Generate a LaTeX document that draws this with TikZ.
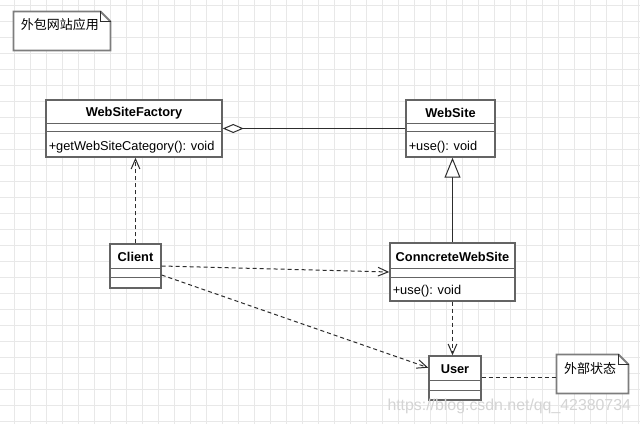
\documentclass[tikz,border=0pt]{standalone}
\usepackage{fontspec}
\setmainfont{Liberation Sans}
\newfontfamily\cjk{Noto Sans CJK SC}
\usetikzlibrary{arrows.meta,calc,fit,backgrounds}

\definecolor{boxgray}{RGB}{100,100,100}
\definecolor{notegray}{RGB}{125,125,125}
\definecolor{shadowgray}{RGB}{236,236,236}
\definecolor{gridgray}{RGB}{232,232,232}
\definecolor{linegray}{RGB}{45,45,45}
\definecolor{markgray}{RGB}{212,212,212}

\tikzset{every picture/.style={line width=0.75pt}}

\begin{document}
\begin{tikzpicture}[x=0.75pt,y=0.75pt,yscale=-1,xscale=1,
  classbox/.style={draw=boxgray, line width=1.1pt, fill=white, inner sep=0pt, rectangle},
  classline/.style={draw=boxgray, line width=1.1pt},
  notebox/.style={draw=notegray, line width=1.4pt, fill=white, line join=miter},
  notefold/.style={draw=linegray, line width=0.6pt},
  classname/.style={inner sep=0.75pt, font=\fontsize{9.6pt}{11pt}\selectfont\bfseries},
  classop/.style={inner sep=0.75pt, anchor=west, font=\fontsize{9.6pt}{11pt}\selectfont},
  notetext/.style={inner sep=0.75pt, anchor=west, font=\cjk\fontsize{9.75pt}{12pt}\selectfont},
  depend/.style={draw=linegray, dash pattern=on 3pt off 2.25pt, -{Straight Barb[length=7.5pt,width=6.5pt]}},
  extend/.style={draw=linegray, -{Triangle[length=15pt,width=12pt,fill=white]}},
  aggreg/.style={draw=linegray, {Diamond[length=15.75pt,width=6.75pt,fill=white]}-},
  attach/.style={draw=linegray, dash pattern=on 3pt off 2.25pt},
  gridline/.style={draw=gridgray, line width=0.6pt}]
\useasboundingbox (0,0) rectangle (640,424);

%Grid
\fill[white] (0,0) rectangle (640,424);
\foreach \gx in {14,30,...,638} \draw[gridline] (\gx,0) -- (\gx,424);
\foreach \gy in {5,21,...,421} \draw[gridline] (0,\gy) -- (640,\gy);

%Shape: Note [id:note1]
\node[inner sep=0pt, fit={(14,12) (110,50)}] (note1) {};
\draw[notebox] (note1.north west) -- ($(note1.north east)+(-10,0)$) -- ($(note1.north east)+(0,10)$) -- (note1.south east) -- (note1.south west) -- cycle;
\draw[notefold] ($(note1.north east)+(-10,0)$) -- ($(note1.north east)+(-10,10)$) -- ($(note1.north east)+(0,10)$);
% Text Node
\node[notetext] (note1text) at ($(note1.north west)+(6,13)$) {外包网站应用};

%Shape: Class [id:factory]
\node[classbox, fit={(46,100) (222,157)}] (factory) {};
\draw[classline] ($(factory.north west)+(0,24)$) -- ($(factory.north east)+(0,24)$);
\draw[classline] ($(factory.north west)+(0,32)$) -- ($(factory.north east)+(0,32)$);
\node[classname] (factoryname) at ($(factory.north)+(0,14)$) {WebSiteFactory};
\node[classop] (factoryop) at ($(factory.south west)+(2,-11)$) {+getWebSiteCategory(): void};

%Shape: Class [id:website]
\node[classbox, fit={(406,100) (495,157)}] (website) {};
\draw[classline] ($(website.north west)+(0,24)$) -- ($(website.north east)+(0,24)$);
\draw[classline] ($(website.north west)+(0,32)$) -- ($(website.north east)+(0,32)$);
\node[classname] (websitename) at ($(website.north)+(0,14)$) {WebSite};
\node[classop] (websiteop) at ($(website.south west)+(2,-11)$) {+use(): void};

%Shape: Class [id:client]
\node[classbox, fit={(110,244) (161,288)}] (client) {};
\draw[classline] ($(client.north west)+(0,25)$) -- ($(client.north east)+(0,25)$);
\draw[classline] ($(client.north west)+(0,34)$) -- ($(client.north east)+(0,34)$);
\node[classname] (clientname) at ($(client.north)+(0,14)$) {Client};

%Shape: Class [id:concrete]
\node[classbox, fit={(390,243) (515,301)}] (concrete) {};
\draw[classline] ($(concrete.north west)+(0,26)$) -- ($(concrete.north east)+(0,26)$);
\draw[classline] ($(concrete.north west)+(0,35)$) -- ($(concrete.north east)+(0,35)$);
\node[classname] (concretename) at ($(concrete.north)+(0,14.5)$) {ConncreteWebSite};
\node[classop] (concreteop) at ($(concrete.south west)+(2,-10.5)$) {+use(): void};

%Shape: Class [id:user]
\node[classbox, fit={(429,356) (481,400)}] (user) {};
\draw[classline] ($(user.north west)+(0,25)$) -- ($(user.north east)+(0,25)$);
\draw[classline] ($(user.north west)+(0,35)$) -- ($(user.north east)+(0,35)$);
\node[classname] (username) at ($(user.north)+(0,14)$) {User};

%Shape: Note [id:note2]
\node[inner sep=0pt, fit={(557,355) (628,393)}] (note2) {};
\draw[notebox] (note2.north west) -- ($(note2.north east)+(-10,0)$) -- ($(note2.north east)+(0,10)$) -- (note2.south east) -- (note2.south west) -- cycle;
\draw[notefold] ($(note2.north east)+(-10,0)$) -- ($(note2.north east)+(-10,10)$) -- ($(note2.north east)+(0,10)$);
% Text Node
\node[notetext] (note2text) at ($(note2.north west)+(6,14)$) {外部状态};

%Shadows
\begin{scope}[on background layer]
\foreach \cls in {factory,website,client,concrete,user}
  \fill[shadowgray] ($(\cls.north west)+(7,7)$) rectangle ($(\cls.south east)+(7,7)$);
\end{scope}

%Connectors
\draw[aggreg] (factory.east) -- (website.west);
\draw[extend] (concrete.north) -- (concrete.north |- website.south);
\draw[depend] (client.north) -- (client.north |- factory.south);
\draw[depend] (client.east) -- (concrete.west);
\draw[depend] (client.-19) -- (user.159);
\draw[depend] (concrete.south) -- (concrete.south |- user.north);
\draw[attach] (user.east) -- (user.east -| note2.west);

% Text Node
\node[inner sep=0pt, anchor=west, text=markgray, font=\fontsize{11.9pt}{13pt}\selectfont] (mark) at (387,406) {https://blog.csdn.net/qq\_42380734};

\end{tikzpicture}
\end{document}
